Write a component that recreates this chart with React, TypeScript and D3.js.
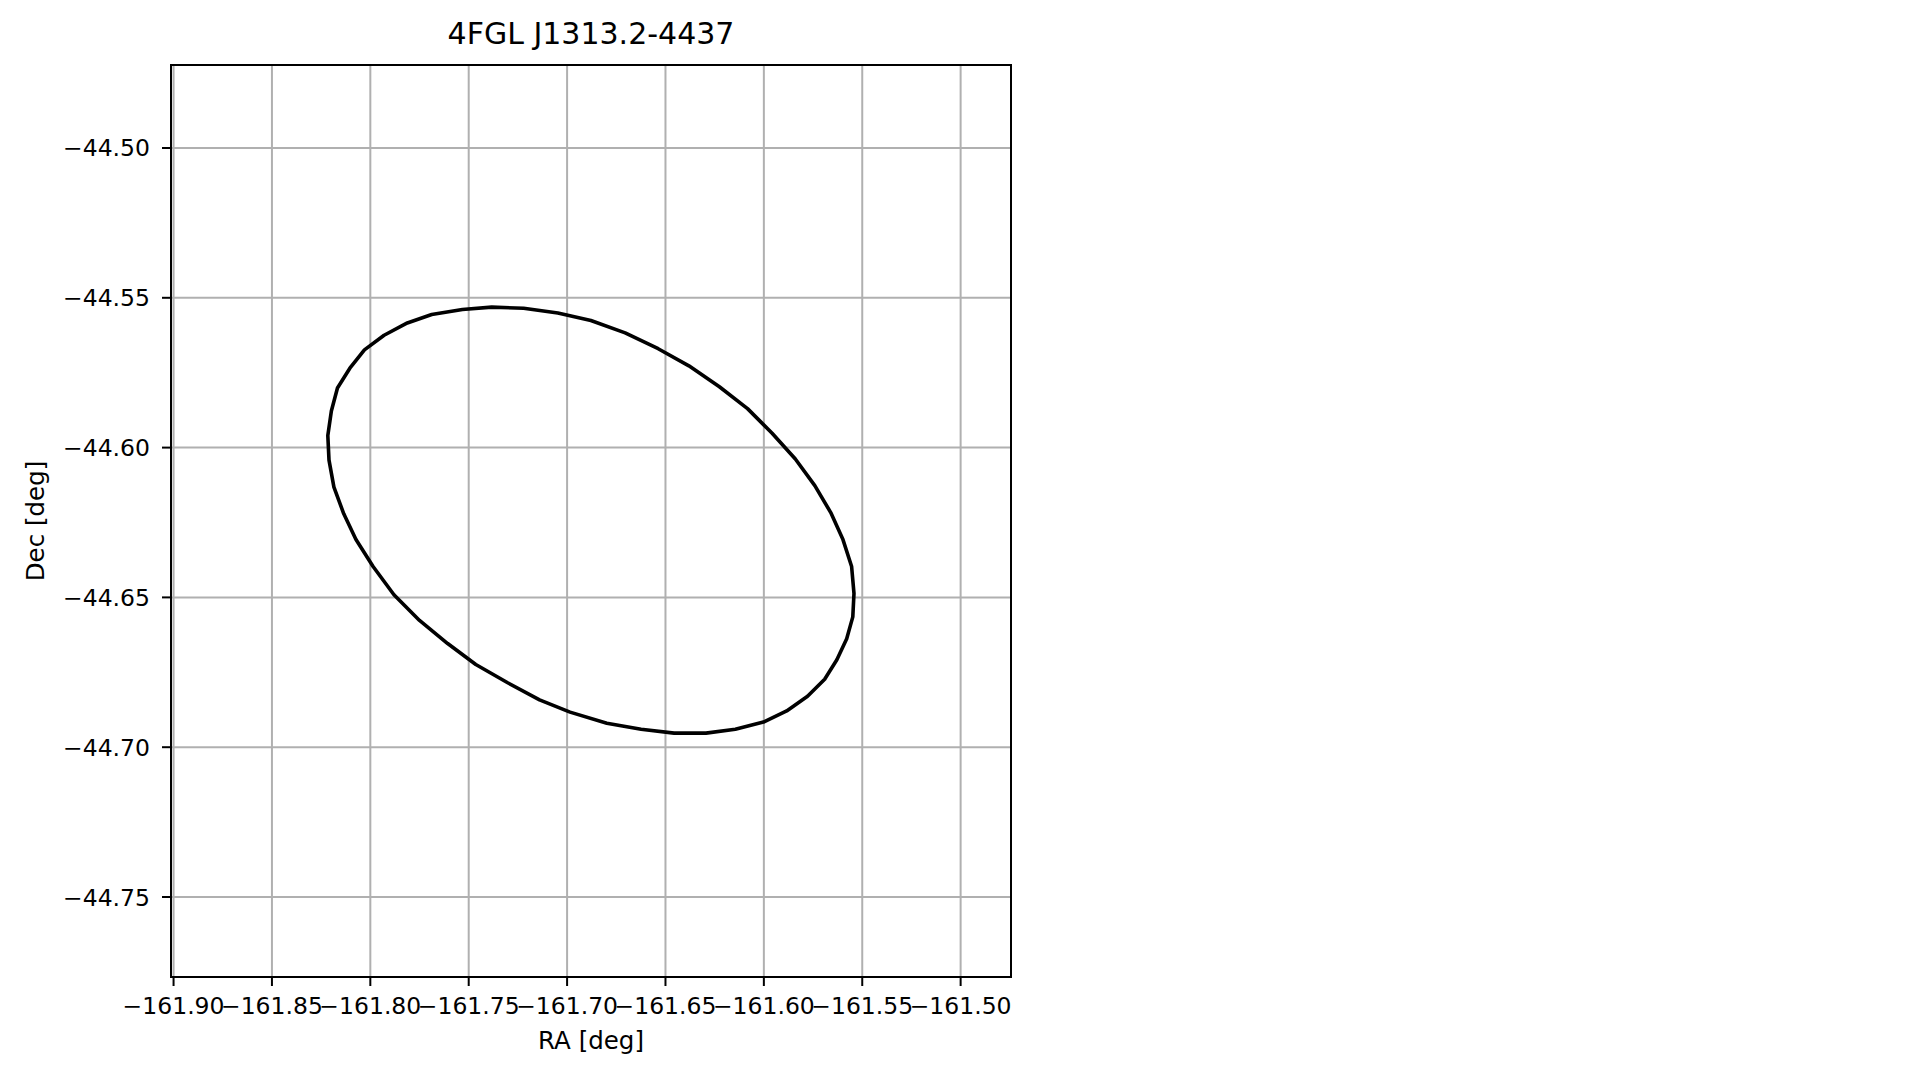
import React from "react";
import * as d3 from "d3";

const title = "4FGL J1313.2-4437";
const xLabel = "RA [deg]";
const yLabel = "Dec [deg]";

const xTicks = [-161.9, -161.85, -161.8, -161.75, -161.7, -161.65, -161.6, -161.55, -161.5];
const yTicks = [-44.5, -44.55, -44.6, -44.65, -44.7, -44.75];
const xDomain = [-161.9013, -161.4744];
const yDomain = [-44.7767, -44.4723];

const ellipseRA = [
  -161.7383, -161.7532, -161.7688, -161.7812, -161.793, -161.803, -161.8104, -161.8167, -161.8198, -161.8216,
  -161.821, -161.8185, -161.8135, -161.8073, -161.7986, -161.788, -161.775, -161.7607, -161.7464, -161.7302,
  -161.714, -161.6985, -161.6798, -161.6624, -161.6456, -161.6294, -161.6145, -161.6002, -161.5884, -161.5778,
  -161.5691, -161.5629, -161.5579, -161.5548, -161.5542, -161.5554, -161.5598, -161.566, -161.5741, -161.584,
  -161.5958, -161.6083, -161.6226, -161.6381, -161.6537, -161.6705, -161.6879, -161.7047, -161.7221,
];
const ellipseDec = [
  -44.5531, -44.5539, -44.5556, -44.5584, -44.5625, -44.5674, -44.5735, -44.5801, -44.5878, -44.596,
  -44.6042, -44.6132, -44.6221, -44.6307, -44.6397, -44.6491, -44.6577, -44.6654, -44.6724, -44.6785,
  -44.6842, -44.6883, -44.692, -44.694, -44.6953, -44.6953, -44.694, -44.6916, -44.6879, -44.683,
  -44.6773, -44.6708, -44.6638, -44.6565, -44.6487, -44.6397, -44.6307, -44.6217, -44.6127, -44.6038,
  -44.5952, -44.587, -44.5797, -44.5727, -44.567, -44.5617, -44.5576, -44.5551, -44.5535,
];

const W = 1919;
const H = 1080;
const plot = { left: 171, right: 1011, top: 65, bottom: 977 };
const FONT = "'DejaVu Sans', sans-serif";

export default function App() {
  const x = d3.scaleLinear().domain(xDomain).range([plot.left, plot.right]);
  const y = d3.scaleLinear().domain(yDomain).range([plot.bottom, plot.top]);
  const fmt = d3.format(".2f");
  const pts: [number, number][] = ellipseRA.map((r, i) => [r, ellipseDec[i]]);
  const line = d3
    .line<[number, number]>()
    .x((d) => x(d[0]))
    .y((d) => y(d[1]))
    .curve(d3.curveLinearClosed);

  return (
    <svg
      width={W}
      height={H}
      style={{ position: "absolute", left: 0, top: 0, background: "#fff" }}
      fontFamily={FONT}
    >
      <rect x={0} y={0} width={W} height={H} fill="#fff" />
      {/* grid */}
      {xTicks.map((t) => (
        <line key={"gx" + t} x1={x(t)} x2={x(t)} y1={plot.top} y2={plot.bottom} stroke="#b0b0b0" strokeWidth={2} />
      ))}
      {yTicks.map((t) => (
        <line key={"gy" + t} x1={plot.left} x2={plot.right} y1={y(t)} y2={y(t)} stroke="#b0b0b0" strokeWidth={2} />
      ))}
      {/* ellipse */}
      <path d={line(pts) || ""} fill="none" stroke="#000" strokeWidth={3.6} strokeLinejoin="round" />
      {/* frame */}
      <rect
        x={plot.left}
        y={plot.top}
        width={plot.right - plot.left}
        height={plot.bottom - plot.top}
        fill="none"
        stroke="#000"
        strokeWidth={2}
      />
      {/* x ticks */}
      {xTicks.map((t) => (
        <g key={"tx" + t}>
          <line x1={x(t)} x2={x(t)} y1={plot.bottom} y2={plot.bottom + 9} stroke="#000" strokeWidth={2} />
          <text x={x(t)} y={1014} textAnchor="middle" fontSize={23.5} fill="#000">
            {fmt(t)}
          </text>
        </g>
      ))}
      {/* y ticks */}
      {yTicks.map((t) => (
        <g key={"ty" + t}>
          <line x1={plot.left - 9} x2={plot.left} y1={y(t)} y2={y(t)} stroke="#000" strokeWidth={2} />
          <text x={150} y={y(t) + 8.5} textAnchor="end" fontSize={23.5} fill="#000">
            {fmt(t)}
          </text>
        </g>
      ))}
      {/* labels */}
      <text x={(plot.left + plot.right) / 2} y={1049} textAnchor="middle" fontSize={24.5} fill="#000">
        {xLabel}
      </text>
      <text
        transform={`translate(44, ${(plot.top + plot.bottom) / 2}) rotate(-90)`}
        textAnchor="middle"
        fontSize={24.5}
        fill="#000"
      >
        {yLabel}
      </text>
      <text x={(plot.left + plot.right) / 2} y={44} textAnchor="middle" fontSize={30} fill="#000">
        {title}
      </text>
    </svg>
  );
}
